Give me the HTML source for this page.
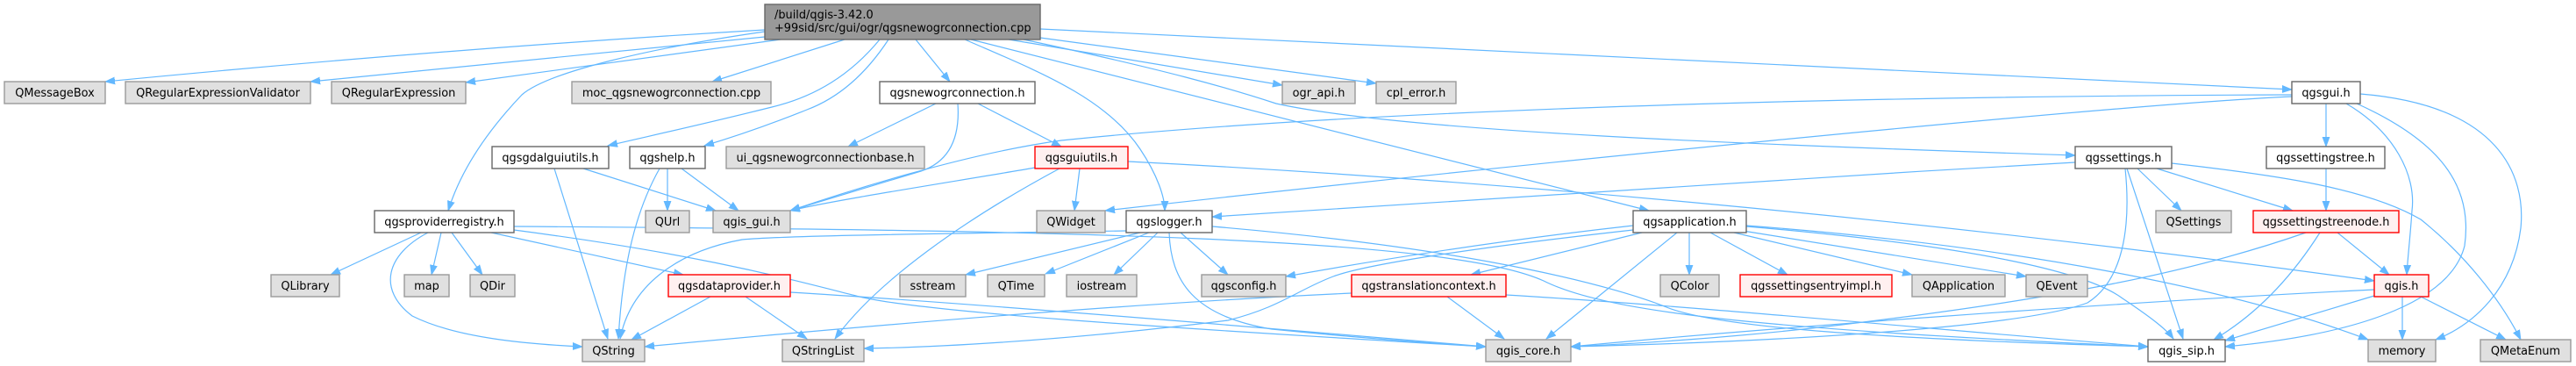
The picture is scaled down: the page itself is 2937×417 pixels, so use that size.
<!DOCTYPE html>
<html><head><meta charset="utf-8">
<style>
html,body{margin:0;padding:0;background:#fff;}
svg{display:block;}
text{font-family:"DejaVu Sans","Liberation Sans",sans-serif;font-size:12.9px;fill:#000;}
.e{fill:none;stroke:#63b8ff;stroke-width:1.2;marker-end:url(#a);}
.g{fill:#e0e0e0;stroke:#999;stroke-width:1.4;}
.w{fill:#fff;stroke:#666;stroke-width:1.4;}
.r{fill:#fff0f0;stroke:#f00;stroke-width:1.4;}
</style></head>
<body>
<svg width="2937" height="417" viewBox="0 0 2937 417" xmlns="http://www.w3.org/2000/svg">
<defs>
<marker id="a" markerWidth="12" markerHeight="10" refX="11" refY="4.5" orient="auto" markerUnits="userSpaceOnUse">
<path d="M0,0.5 L11,4.5 L0,8.5 z" fill="#63b8ff" stroke="#63b8ff" stroke-width="0.8"/>
</marker>
</defs>

<!-- edges from top node -->
<path class="e" d="M872,34 Q500,56 120,93"/>
<path class="e" d="M872,42 L354,93"/>
<path class="e" d="M890,45 L531,94"/>
<path class="e" d="M963,45 L812,93"/>
<path class="e" d="M872,36 C740,55 625,82 595,108 C555,150 525,195 511,240"/>
<path class="e" d="M1003,45 C970,85 930,110 880,122 C800,142 740,155 693,166"/>
<path class="e" d="M1013,45 C990,80 960,110 920,125 C870,145 830,158 803,166"/>
<path class="e" d="M1044,45 L1083,93"/>
<path class="e" d="M1100,45 C1180,80 1260,110 1300,170 C1320,200 1328,225 1328,240"/>
<path class="e" d="M1107,45 L1880,240"/>
<path class="e" d="M1150,45 L1462,97"/>
<path class="e" d="M1186,43 L1569,95"/>
<path class="e" d="M1167,45 C1330,80 1400,100 1455,118 C1600,150 2000,165 2366,177"/>
<path class="e" d="M1186,33 L2613,102"/>

<!-- qgsnewogrconnection.h -->
<path class="e" d="M1067,118 L967,167"/>
<path class="e" d="M1092,118 C1095,160 1080,185 1050,195 C1000,210 940,228 901,240"/>
<path class="e" d="M1115,118 L1210,167"/>

<!-- qgsguiutils.h -->
<path class="e" d="M1180,191 C1100,205 950,228 901,240"/>
<path class="e" d="M1231,192 L1225,240"/>
<path class="e" d="M1208,192 C1100,250 1000,320 952,386"/>
<path class="e" d="M1286,184 C1700,205 2200,250 2707,320"/>

<!-- qgsgdalguiutils.h -->
<path class="e" d="M632,192 L693,386"/>
<path class="e" d="M665,192 L816,240"/>

<!-- qgshelp.h -->
<path class="e" d="M752,192 C725,240 710,300 705,386"/>
<path class="e" d="M761,192 L761,240"/>
<path class="e" d="M777,192 L842,240"/>

<!-- qgsproviderregistry.h -->
<path class="e" d="M480,265 L377,313"/>
<path class="e" d="M503,265 L492,313"/>
<path class="e" d="M515,265 L550,313"/>
<path class="e" d="M488,265 C440,290 430,330 470,360 C520,385 600,392 664,395"/>
<path class="e" d="M560,265 L779,313"/>
<path class="e" d="M586,262 C800,290 900,318 980,338 C1050,355 1300,372 1694,395"/>
<path class="e" d="M586,258 C1200,262 1650,270 1760,320 C1830,355 2000,375 2449,395"/>

<!-- qgsdataprovider.h -->
<path class="e" d="M810,338 L720,387"/>
<path class="e" d="M850,338 L920,386"/>
<path class="e" d="M901,333 C1100,345 1400,370 1694,395"/>

<!-- qgslogger.h -->
<path class="e" d="M1284,263 C1100,266 900,268 846,273 C780,285 720,320 707,386"/>
<path class="e" d="M1300,265 L1101,313"/>
<path class="e" d="M1310,265 L1192,312"/>
<path class="e" d="M1320,265 L1270,313"/>
<path class="e" d="M1346,265 L1400,313"/>
<path class="e" d="M1333,265 C1335,320 1360,360 1450,375 C1550,385 1620,390 1694,395"/>
<path class="e" d="M1382,258 C1700,285 1850,330 1900,350 C1950,370 2100,385 2449,395"/>

<!-- qgsapplication.h -->
<path class="e" d="M1862,257 C1700,275 1550,300 1466,315"/>
<path class="e" d="M1872,265 L1677,313"/>
<path class="e" d="M1862,262 C1700,280 1560,300 1520,315 C1480,330 1460,350 1400,365 C1200,390 1050,396 985,397"/>
<path class="e" d="M1912,265 L1763,386"/>
<path class="e" d="M1926,265 L1926,313"/>
<path class="e" d="M1950,265 L2038,313"/>
<path class="e" d="M1977,265 L2180,313"/>
<path class="e" d="M1987,263 L2310,315"/>
<path class="e" d="M1991,258 C2250,280 2380,310 2420,340 C2450,360 2470,375 2478,386"/>
<path class="e" d="M1991,257 C2300,280 2550,330 2700,387"/>

<!-- qgstranslationcontext.h -->
<path class="e" d="M1541,334 C1300,345 1000,370 735,395"/>
<path class="e" d="M1650,338 L1715,386"/>
<path class="e" d="M1717,336 C1950,350 2200,375 2449,395"/>

<!-- qgssettings.h -->
<path class="e" d="M2366,185 C2000,205 1600,235 1382,247"/>
<path class="e" d="M2437,192 L2487,240"/>
<path class="e" d="M2459,192 L2614,240"/>
<path class="e" d="M2476,186 C2600,200 2700,215 2760,250 C2810,290 2850,340 2874,387"/>
<path class="e" d="M2425,192 L2489,386"/>
<path class="e" d="M2423,192 C2430,260 2420,320 2380,345 C2300,375 2000,390 1791,395"/>

<!-- qgsgui.h -->
<path class="e" d="M2613,108 C2000,110 1500,130 1210,160 C1100,175 960,220 901,240"/>
<path class="e" d="M2613,110 C2400,120 1700,190 1260,240"/>
<path class="e" d="M2652,118 L2652,167"/>
<path class="e" d="M2675,118 C2730,150 2755,200 2750,240 C2748,270 2745,295 2744,313"/>
<path class="e" d="M2687,118 C2780,160 2820,210 2810,280 C2795,340 2700,380 2537,395"/>
<path class="e" d="M2691,107 C2850,120 2880,200 2874,260 C2865,330 2820,370 2777,387"/>

<!-- qgssettingstree.h -->
<path class="e" d="M2652,192 L2652,240"/>

<!-- qgssettingstreenode.h -->
<path class="e" d="M2665,265 L2724,313"/>
<path class="e" d="M2645,265 C2610,320 2570,360 2524,387"/>
<path class="e" d="M2629,265 C2500,310 2350,340 2100,370 C2000,382 1900,390 1791,395"/>

<!-- qgis.h -->
<path class="e" d="M2739,338 L2739,387"/>
<path class="e" d="M2760,338 L2857,387"/>
<path class="e" d="M2707,337 L2537,388"/>
<path class="e" d="M2707,330 C2400,345 2000,375 1791,395"/>

<!-- NODES -->
<!-- top -->
<rect x="872" y="5" width="314" height="40" fill="#999" stroke="#666" stroke-width="1.4"/>
<text x="883" y="21">/build/qgis-3.42.0</text>
<text x="883" y="36">+99sid/src/gui/ogr/qgsnewogrconnection.cpp</text>

<!-- row1 y 93-118 -->
<rect class="g" x="5" y="93" width="115" height="25"/><text x="62.5" y="110" text-anchor="middle">QMessageBox</text>
<rect class="g" x="143" y="93" width="211" height="25"/><text x="248.5" y="110" text-anchor="middle">QRegularExpressionValidator</text>
<rect class="g" x="378" y="93" width="153" height="25"/><text x="454.5" y="110" text-anchor="middle">QRegularExpression</text>
<rect class="g" x="652" y="93" width="227" height="25"/><text x="765.5" y="110" text-anchor="middle">moc_qgsnewogrconnection.cpp</text>
<rect class="w" x="1003" y="93" width="177" height="25"/><text x="1091.5" y="110" text-anchor="middle">qgsnewogrconnection.h</text>
<rect class="g" x="1462" y="93" width="83" height="25"/><text x="1503.5" y="110" text-anchor="middle">ogr_api.h</text>
<rect class="g" x="1569" y="93" width="91" height="25"/><text x="1614.5" y="110" text-anchor="middle">cpl_error.h</text>
<rect class="w" x="2613" y="93" width="78" height="25"/><text x="2652" y="110" text-anchor="middle">qgsgui.h</text>

<!-- row2 y 167-192 -->
<rect class="w" x="561" y="167" width="133" height="25"/><text x="627.5" y="184" text-anchor="middle">qgsgdalguiutils.h</text>
<rect class="w" x="718" y="167" width="86" height="25"/><text x="761" y="184" text-anchor="middle">qgshelp.h</text>
<rect class="g" x="828" y="167" width="226" height="25"/><text x="941" y="184" text-anchor="middle">ui_qgsnewogrconnectionbase.h</text>
<rect class="r" x="1180" y="167" width="106" height="25"/><text x="1233" y="184" text-anchor="middle">qgsguiutils.h</text>
<rect class="w" x="2366" y="167" width="110" height="25"/><text x="2421" y="184" text-anchor="middle">qgssettings.h</text>
<rect class="w" x="2584" y="167" width="135" height="25"/><text x="2651.5" y="184" text-anchor="middle">qgssettingstree.h</text>

<!-- row3 y 240-265 -->
<rect class="w" x="427" y="240" width="159" height="25"/><text x="506.5" y="257" text-anchor="middle">qgsproviderregistry.h</text>
<rect class="g" x="736" y="240" width="50" height="25"/><text x="761" y="257" text-anchor="middle">QUrl</text>
<rect class="g" x="813" y="240" width="88" height="25"/><text x="857" y="257" text-anchor="middle">qgis_gui.h</text>
<rect class="g" x="1182" y="240" width="78" height="25"/><text x="1221" y="257" text-anchor="middle">QWidget</text>
<rect class="w" x="1284" y="240" width="98" height="25"/><text x="1333" y="257" text-anchor="middle">qgslogger.h</text>
<rect class="w" x="1862" y="240" width="129" height="25"/><text x="1926.5" y="257" text-anchor="middle">qgsapplication.h</text>
<rect class="g" x="2458" y="240" width="86" height="25"/><text x="2501" y="257" text-anchor="middle">QSettings</text>
<rect class="r" x="2569" y="240" width="166" height="25"/><text x="2652" y="257" text-anchor="middle">qgssettingstreenode.h</text>

<!-- row4 y 313-338 -->
<rect class="g" x="309" y="313" width="78" height="25"/><text x="348" y="330" text-anchor="middle">QLibrary</text>
<rect class="g" x="461" y="313" width="51" height="25"/><text x="486.5" y="330" text-anchor="middle">map</text>
<rect class="g" x="536" y="313" width="51" height="25"/><text x="561.5" y="330" text-anchor="middle">QDir</text>
<rect class="r" x="762" y="313" width="139" height="25"/><text x="831.5" y="330" text-anchor="middle">qgsdataprovider.h</text>
<rect class="g" x="1026" y="313" width="75" height="25"/><text x="1063.5" y="330" text-anchor="middle">sstream</text>
<rect class="g" x="1126" y="313" width="65" height="25"/><text x="1158.5" y="330" text-anchor="middle">QTime</text>
<rect class="g" x="1216" y="313" width="80" height="25"/><text x="1256" y="330" text-anchor="middle">iostream</text>
<rect class="g" x="1370" y="313" width="96" height="25"/><text x="1418" y="330" text-anchor="middle">qgsconfig.h</text>
<rect class="r" x="1541" y="313" width="176" height="25"/><text x="1629" y="330" text-anchor="middle">qgstranslationcontext.h</text>
<rect class="g" x="1893" y="313" width="67" height="25"/><text x="1926.5" y="330" text-anchor="middle">QColor</text>
<rect class="r" x="1984" y="313" width="173" height="25"/><text x="2070.5" y="330" text-anchor="middle">qgssettingsentryimpl.h</text>
<rect class="g" x="2180" y="313" width="106" height="25"/><text x="2233" y="330" text-anchor="middle">QApplication</text>
<rect class="g" x="2310" y="313" width="70" height="25"/><text x="2345" y="330" text-anchor="middle">QEvent</text>
<rect class="r" x="2707" y="313" width="62" height="25"/><text x="2738" y="330" text-anchor="middle">qgis.h</text>

<!-- row5 y 387-412 -->
<rect class="g" x="664" y="387" width="71" height="25"/><text x="699.5" y="404" text-anchor="middle">QString</text>
<rect class="g" x="892" y="387" width="93" height="25"/><text x="938.5" y="404" text-anchor="middle">QStringList</text>
<rect class="g" x="1694" y="387" width="97" height="25"/><text x="1742.5" y="404" text-anchor="middle">qgis_core.h</text>
<rect class="w" x="2449" y="387" width="88" height="25"/><text x="2493" y="404" text-anchor="middle">qgis_sip.h</text>
<rect class="g" x="2700" y="387" width="77" height="25"/><text x="2738.5" y="404" text-anchor="middle">memory</text>
<rect class="g" x="2828" y="387" width="103" height="25"/><text x="2879.5" y="404" text-anchor="middle">QMetaEnum</text>
</svg>
</body></html>
